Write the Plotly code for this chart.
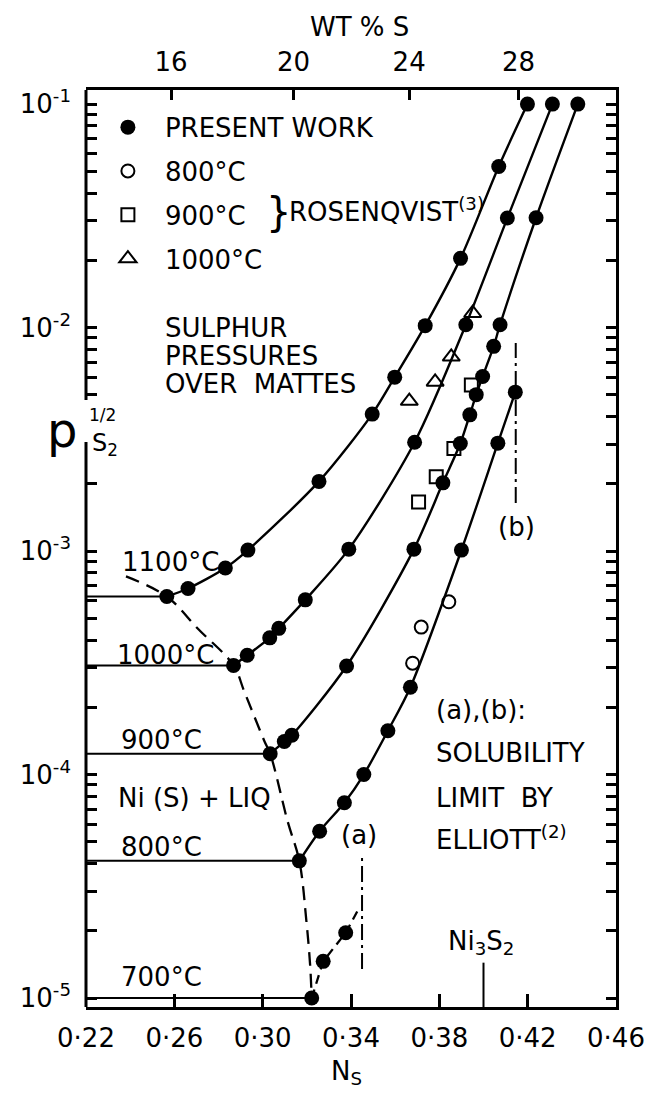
import math
import plotly.graph_objects as go

# ---------------- data ----------------
# Present work, filled circles: mole fraction N_S vs p_S2^(1/2)
ns_1100 = [0.2566, 0.2662, 0.2831, 0.2933, 0.3255, 0.3496, 0.3598, 0.3736, 0.3896, 0.4069, 0.4199]
p_1100 = [6.26e-4, 6.8e-4, 8.4e-4, 1.01e-3, 2.05e-3, 4.1e-3, 6.0e-3, 1.02e-2, 2.04e-2, 5.26e-2, 1.0e-1]

ns_1000 = [0.2868, 0.2930, 0.3032, 0.3073, 0.3193, 0.3390, 0.3688, 0.3920, 0.4108, 0.4312]
p_1000 = [3.08e-4, 3.42e-4, 4.09e-4, 4.51e-4, 6.05e-4, 1.02e-3, 3.07e-3, 1.03e-2, 3.09e-2, 1.0e-1]

ns_900 = [0.3034, 0.3098, 0.3132, 0.3380, 0.3685, 0.3816, 0.3895, 0.3938, 0.3967, 0.3996, 0.4046, 0.4075, 0.4238, 0.4427]
p_900 = [1.24e-4, 1.405e-4, 1.5e-4, 3.06e-4, 1.02e-3, 2.02e-3, 3.03e-3, 4.07e-3, 5.01e-3, 6.04e-3, 8.24e-3, 1.03e-2, 3.1e-2, 1.0e-1]

ns_800 = [0.3166, 0.3258, 0.3370, 0.3458, 0.3567, 0.3669, 0.3900, 0.4065, 0.4144]
p_800 = [4.11e-5, 5.58e-5, 7.48e-5, 1.0e-4, 1.57e-4, 2.46e-4, 1.01e-3, 3.04e-3, 5.14e-3]

ns_700 = [0.3222, 0.3274, 0.3376]
p_700 = [1.0e-5, 1.46e-5, 1.96e-5]
ns_700_end = 0.3434          # end of the dashed 700 degC extension
p_700_end = 2.5e-5

# Rosenqvist (3)
r800_ns = [0.3679, 0.3718, 0.3843]
r800_p = [3.15e-4, 4.57e-4, 5.93e-4]
r900_ns = [0.3706, 0.3786, 0.3866, 0.3945]
r900_p = [1.66e-3, 2.15e-3, 2.88e-3, 5.54e-3]
r1000_ns = [0.3664, 0.3781, 0.3854, 0.3951]
r1000_p = [4.69e-3, 5.71e-3, 7.40e-3, 1.16e-2]

# Ni(S)+LIQ boundary (dashed)
bound_ns = [0.2381, 0.2566, 0.2708, 0.2868, 0.2917, 0.3008, 0.3034, 0.3113, 0.3166, 0.3198, 0.3215, 0.3222]
bound_p = [7.7e-4, 6.26e-4, 4.48e-4, 3.08e-4, 2.35e-4, 1.41e-4, 1.24e-4, 6.18e-5, 4.11e-5, 2.21e-5, 1.4e-5, 1.0e-5]

# Solubility limits by Elliott (2)
sol_a_ns = 0.345
sol_a_p = [1.35e-5, 4.4e-5]
sol_b_ns = 0.4146
sol_b_p = [1.64e-3, 8.54e-3]

# Ni3S2 composition
ni3s2_ns = 0.40
ni3s2_p_top = 1.44e-5

# axes
x_ticks = [0.22, 0.26, 0.30, 0.34, 0.38, 0.42, 0.46]
x_ticktext = ["0·22", "0·26", "0·30", "0·34", "0·38", "0·42", "0·46"]
wt_labels = [16, 20, 24, 28]
M_S, M_NI = 32.06, 58.69
X_RANGE = [0.22, 0.46]
Y_RANGE = [-5.040, -0.937]   # log10

FONT = "DejaVu Sans"
BLACK = "black"

# top axis: weight percent S -> mole fraction
wt_ns = [(w / M_S) / (w / M_S + (100 - w) / M_NI) for w in wt_labels]

fig = go.Figure()

curves = [(ns_1100, p_1100), (ns_1000, p_1000), (ns_900, p_900), (ns_800, p_800)]

# isotherm tie lines in the Ni(S)+LIQ field
for ns, p in curves + [(ns_700, p_700)]:
    fig.add_trace(go.Scatter(x=[X_RANGE[0], ns[0]], y=[p[0], p[0]], mode="lines",
                             line=dict(color=BLACK, width=2), showlegend=False, hoverinfo="skip"))

# boundary
fig.add_trace(go.Scatter(x=bound_ns, y=bound_p, mode="lines", line_shape="spline",
                         line=dict(color=BLACK, width=2.3, dash="14px,8px"),
                         showlegend=False, hoverinfo="skip"))

# smooth curves
for ns, p in curves:
    fig.add_trace(go.Scatter(x=ns, y=p, mode="lines", line_shape="spline",
                             line=dict(color=BLACK, width=2.4, smoothing=0.8),
                             showlegend=False, hoverinfo="skip"))
fig.add_trace(go.Scatter(x=ns_700 + [ns_700_end], y=p_700 + [p_700_end], mode="lines",
                         line=dict(color=BLACK, width=2.3, dash="9px,6px"),
                         showlegend=False, hoverinfo="skip"))

# solubility limits
for xs, ps in [(sol_a_ns, sol_a_p), (sol_b_ns, sol_b_p)]:
    fig.add_trace(go.Scatter(x=[xs, xs], y=ps, mode="lines",
                             line=dict(color=BLACK, width=2, dash="16px,5px,3px,5px"),
                             showlegend=False, hoverinfo="skip"))

# Ni3S2 marker line
fig.add_trace(go.Scatter(x=[ni3s2_ns, ni3s2_ns], y=[10 ** Y_RANGE[0], ni3s2_p_top], mode="lines",
                         line=dict(color=BLACK, width=2), showlegend=False, hoverinfo="skip"))

# present work points
first = True
for ns, p in curves + [(ns_700, p_700)]:
    fig.add_trace(go.Scatter(x=ns, y=p, mode="markers", name="PRESENT WORK",
                             legendgroup="pw", showlegend=first, legendrank=1,
                             marker=dict(symbol="circle", size=15, color=BLACK)))
    first = False

fig.add_trace(go.Scatter(x=r800_ns, y=r800_p, mode="markers", name="800°C", legendgroup="r800",
                         legendrank=2,
                         marker=dict(symbol="circle-open", size=13, color=BLACK, line=dict(width=2))))
fig.add_trace(go.Scatter(x=r900_ns, y=r900_p, mode="markers", name="900°C", legendgroup="r900",
                         legendrank=3,
                         marker=dict(symbol="square-open", size=13, color=BLACK, line=dict(width=2))))
fig.add_trace(go.Scatter(x=r1000_ns, y=r1000_p, mode="markers", name="1000°C", legendgroup="r1000",
                         legendrank=4,
                         marker=dict(symbol="triangle-up-open", size=15, color=BLACK, line=dict(width=2))))

# helper trace so the mirrored axes exist
fig.add_trace(go.Scatter(x=[X_RANGE[0]], y=[1e-3], xaxis="x2", yaxis="y2", mode="markers",
                         marker=dict(opacity=0), showlegend=False, hoverinfo="skip"))

# tick values on log axis
left_vals, left_text, right_vals = [], [], []
for d in [-5, -4, -3, -2, -1]:
    for m in range(1, 10):
        v = m * 10.0 ** d
        lv = d + math.log10(m)
        if lv < Y_RANGE[0] - 1e-9 or lv > Y_RANGE[1] + 1e-9:
            continue
        right_vals.append(v)
        if d == -3 and m in (3, 4):
            continue   # axis interrupted by the label
        left_vals.append(v)
        left_text.append(f"10<sup>{d}</sup>" if m == 1 else "")

# page has an 8px body margin: work in page pixels, convert to figure pixels
OFF = 8
PW, PH = 657, 1099
W, H = PW - OFF, PH - OFF
L, R, T, B = 86 - OFF, 627 - OFF, 90 - OFF, 1007 - OFF

fig.update_layout(
    width=W, height=H,
    margin=dict(l=L, r=W - R, t=T, b=H - B, pad=0),
    plot_bgcolor="white", paper_bgcolor="white",
    font=dict(family=FONT, color=BLACK, size=26),
    xaxis=dict(range=X_RANGE, tickvals=x_ticks, ticktext=x_ticktext, ticks="inside",
               ticklen=13, tickwidth=2.5, tickcolor=BLACK, showline=True, linewidth=3,
               linecolor=BLACK, showgrid=False, zeroline=False, ticklabelstandoff=6,
               ticklabeloverflow="allow", tickfont=dict(size=26)),
    xaxis2=dict(range=X_RANGE, overlaying="x", side="top", tickvals=wt_ns,
                ticktext=[str(w) for w in wt_labels], ticks="inside", ticklen=10, tickwidth=2.5,
                tickcolor=BLACK, showline=True, linewidth=3, linecolor=BLACK, showgrid=False,
                zeroline=False, ticklabelstandoff=6, tickfont=dict(size=26)),
    yaxis=dict(type="log", range=Y_RANGE, tickvals=left_vals, ticktext=left_text, ticks="inside",
               ticklen=11, tickwidth=2.5, tickcolor=BLACK, showline=False, showgrid=False,
               zeroline=False, ticklabelstandoff=14, tickfont=dict(size=26)),
    yaxis2=dict(type="log", range=Y_RANGE, overlaying="y", side="right", tickvals=right_vals,
                ticks="inside", ticklen=10, tickwidth=2.5, tickcolor=BLACK, showticklabels=False,
                showline=True, linewidth=3, linecolor=BLACK, showgrid=False, zeroline=False),
    legend=dict(x=(91 - OFF - L) / (R - L), y=0.985, xanchor="left", yanchor="top",
                bgcolor="rgba(0,0,0,0)", font=dict(size=26), traceorder="grouped",
                tracegroupgap=7, itemwidth=64),
    showlegend=True,
)

def px(x):
    return (x - OFF - L) / (R - L)

def py(y):
    return (B - (y - OFF)) / (B - T)

# left axis line with the gap for the ordinate label
gap_top, gap_bot = 400, 442
for y0, y1 in [(90, gap_top), (gap_bot, 1007)]:
    fig.add_shape(type="line", xref="paper", yref="paper", x0=0, x1=0, y0=py(y0), y1=py(y1),
                  line=dict(color=BLACK, width=3))

def note(text, x, y, size=26, xanchor="left", yanchor="middle"):
    fig.add_annotation(text=text, x=px(x), y=py(y), xref="paper", yref="paper",
                       showarrow=False, xanchor=xanchor, yanchor=yanchor,
                       font=dict(size=size, family=FONT, color=BLACK))

note("}", 268, 212, size=40)
note("ROSENQVIST<sup>(3)</sup>", 291, 210)
note("SULPHUR", 165, 328)
note("PRESSURES", 165, 356)
note("OVER  MATTES", 165, 384)
note("1100°C", 121, 562)
note("1000°C", 116, 655)
note("900°C", 120, 740)
note("Ni (S) + LIQ", 117, 798)
note("800°C", 120, 847)
note("700°C", 120, 977)
note("(a)", 365, 835, xanchor="center")
note("(b)", 525, 527, xanchor="center")
note("(a),(b):", 441, 710)
note("SOLUBILITY", 441, 753)
note("LIMIT  BY", 441, 798)
note("ELLIOTT<sup>(2)</sup>", 441, 838)
note("Ni<sub>3</sub>S<sub>2</sub>", 489, 942, xanchor="center")
note("WT % S", 365, 27, xanchor="center")
note("N<sub>S</sub>", 352, 1072, xanchor="center")
note("p", 62, 430, size=48, xanchor="center")
note("1/2", 103, 415, size=17, xanchor="center")
note("S<sub>2</sub>", 90, 444, size=24)

fig.write_html("out.html")
